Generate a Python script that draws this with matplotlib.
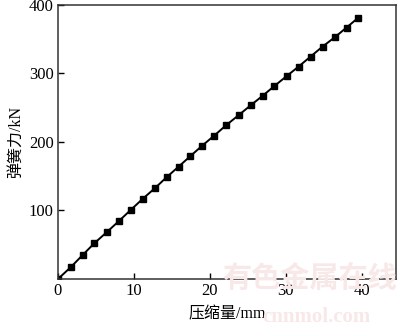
import matplotlib.pyplot as plt

# 压缩量 (mm) and 弹簧力 (kN)
compression = [0, 1.67, 3.25, 4.78, 6.41, 7.99, 9.57, 11.14, 12.79, 14.30,
               15.88, 17.41, 18.99, 20.57, 22.14, 23.78, 25.39, 26.93, 28.46,
               30.09, 31.67, 33.25, 34.83, 36.45, 37.99, 39.51]
force = [0, 17.1, 35.0, 52.1, 68.2, 84.2, 100.7, 116.8, 132.8, 148.5,
         163.9, 179.1, 194.6, 209.2, 224.4, 239.0, 253.6, 267.2, 281.3,
         295.9, 309.9, 324.5, 339.1, 352.8, 366.9, 381.0]
xticks = [0, 10, 20, 30, 40]
yticks = [100, 200, 300, 400]

plt.rcParams['font.family'] = ['Liberation Serif', 'Noto Sans CJK SC']

fig = plt.figure(figsize=(4, 3.24), dpi=100)
ax = fig.add_axes([0.145, 0.139, 0.845, 0.846])

ax.plot(compression, force, color='black', lw=1.4, marker='s', ms=4.5)

ax.set_xlim(0, 44.5)
ax.set_ylim(0, 400)
ax.set_xticks(xticks)
ax.set_yticks(yticks)
ax.tick_params(direction='in', length=4, width=1, labelsize=12, pad=3,
               top=False, right=False)
for s in ax.spines.values():
    s.set_linewidth(1.1)
    s.set_color('#333333')

ax.set_xlabel('压缩量/mm', fontsize=11.5, labelpad=5)
ax.set_ylabel('弹簧力/kN', fontsize=11.5, labelpad=4)

# faint watermark
fig.text(0.555, 0.115, '有色金属在线', fontsize=21, color='#f8e8e8',
         family='Noto Sans CJK SC', weight='bold', zorder=0)
fig.text(0.655, 0.005, 'cnnmol.com', fontsize=15, color='#f8e8e8',
         family='Liberation Serif', weight='bold', zorder=0)

fig.savefig('out.png', dpi=100)
